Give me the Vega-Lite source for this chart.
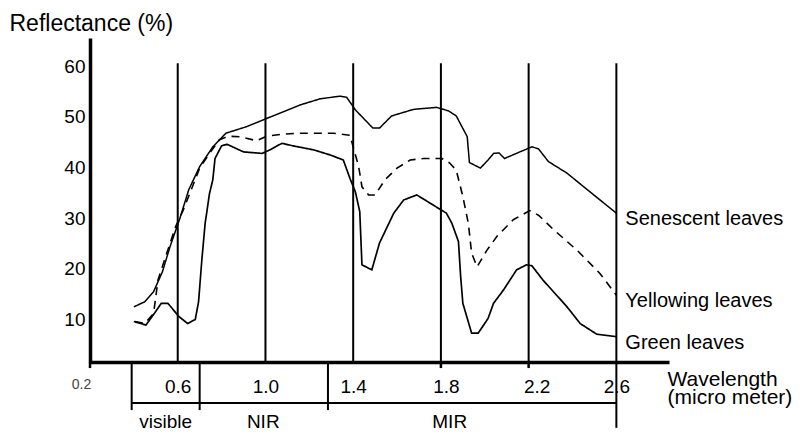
{
  "$schema": "https://vega.github.io/schema/vega-lite/v6.json",
  "width": 579,
  "height": 324,
  "autosize": {"type": "none"},
  "padding": {"left": 90, "top": 38, "right": 141, "bottom": 75},
  "background": "white",
  "config": {"view": {"stroke": null}, "font": "Liberation Sans"},
  "datasets": {
    "spectra": [
      {"series": "Senescent leaves", "wl": 0.40, "refl": 12.5},
      {"series": "Senescent leaves", "wl": 0.45, "refl": 13.5},
      {"series": "Senescent leaves", "wl": 0.49, "refl": 15.5},
      {"series": "Senescent leaves", "wl": 0.53, "refl": 19.4},
      {"series": "Senescent leaves", "wl": 0.565, "refl": 24.4},
      {"series": "Senescent leaves", "wl": 0.61, "refl": 30.0},
      {"series": "Senescent leaves", "wl": 0.65, "refl": 35.6},
      {"series": "Senescent leaves", "wl": 0.70, "refl": 40.2},
      {"series": "Senescent leaves", "wl": 0.76, "refl": 44.1},
      {"series": "Senescent leaves", "wl": 0.82, "refl": 46.8},
      {"series": "Senescent leaves", "wl": 0.915, "refl": 48.1},
      {"series": "Senescent leaves", "wl": 1.005, "refl": 49.7},
      {"series": "Senescent leaves", "wl": 1.16, "refl": 52.4},
      {"series": "Senescent leaves", "wl": 1.25, "refl": 53.6},
      {"series": "Senescent leaves", "wl": 1.34, "refl": 54.1},
      {"series": "Senescent leaves", "wl": 1.37, "refl": 53.9},
      {"series": "Senescent leaves", "wl": 1.41, "refl": 51.4},
      {"series": "Senescent leaves", "wl": 1.49, "refl": 47.8},
      {"series": "Senescent leaves", "wl": 1.52, "refl": 47.8},
      {"series": "Senescent leaves", "wl": 1.575, "refl": 50.2},
      {"series": "Senescent leaves", "wl": 1.675, "refl": 51.5},
      {"series": "Senescent leaves", "wl": 1.78, "refl": 51.9},
      {"series": "Senescent leaves", "wl": 1.835, "refl": 51.2},
      {"series": "Senescent leaves", "wl": 1.87, "refl": 50.2},
      {"series": "Senescent leaves", "wl": 1.92, "refl": 46.1},
      {"series": "Senescent leaves", "wl": 1.93, "refl": 41.0},
      {"series": "Senescent leaves", "wl": 1.98, "refl": 39.9},
      {"series": "Senescent leaves", "wl": 2.015, "refl": 41.5},
      {"series": "Senescent leaves", "wl": 2.04, "refl": 42.8},
      {"series": "Senescent leaves", "wl": 2.065, "refl": 42.9},
      {"series": "Senescent leaves", "wl": 2.09, "refl": 41.8},
      {"series": "Senescent leaves", "wl": 2.16, "refl": 43.1},
      {"series": "Senescent leaves", "wl": 2.215, "refl": 44.1},
      {"series": "Senescent leaves", "wl": 2.245, "refl": 43.7},
      {"series": "Senescent leaves", "wl": 2.29, "refl": 41.2},
      {"series": "Senescent leaves", "wl": 2.375, "refl": 38.9},
      {"series": "Senescent leaves", "wl": 2.48, "refl": 35.2},
      {"series": "Senescent leaves", "wl": 2.6, "refl": 31.0},
      {"series": "Yellowing leaves", "wl": 0.405, "refl": 9.6},
      {"series": "Yellowing leaves", "wl": 0.45, "refl": 9.2},
      {"series": "Yellowing leaves", "wl": 0.49, "refl": 11.2},
      {"series": "Yellowing leaves", "wl": 0.51, "refl": 17.8},
      {"series": "Yellowing leaves", "wl": 0.55, "refl": 23.1},
      {"series": "Yellowing leaves", "wl": 0.59, "refl": 28.3},
      {"series": "Yellowing leaves", "wl": 0.625, "refl": 31.6},
      {"series": "Yellowing leaves", "wl": 0.655, "refl": 34.9},
      {"series": "Yellowing leaves", "wl": 0.70, "refl": 39.9},
      {"series": "Yellowing leaves", "wl": 0.745, "refl": 42.8},
      {"series": "Yellowing leaves", "wl": 0.79, "refl": 45.5},
      {"series": "Yellowing leaves", "wl": 0.83, "refl": 46.2},
      {"series": "Yellowing leaves", "wl": 0.885, "refl": 46.1},
      {"series": "Yellowing leaves", "wl": 0.96, "refl": 45.3},
      {"series": "Yellowing leaves", "wl": 1.005, "refl": 46.2},
      {"series": "Yellowing leaves", "wl": 1.08, "refl": 46.6},
      {"series": "Yellowing leaves", "wl": 1.16, "refl": 46.8},
      {"series": "Yellowing leaves", "wl": 1.31, "refl": 46.8},
      {"series": "Yellowing leaves", "wl": 1.385, "refl": 46.4},
      {"series": "Yellowing leaves", "wl": 1.40, "refl": 44.1},
      {"series": "Yellowing leaves", "wl": 1.425, "refl": 40.2},
      {"series": "Yellowing leaves", "wl": 1.44, "refl": 36.2},
      {"series": "Yellowing leaves", "wl": 1.47, "refl": 34.6},
      {"series": "Yellowing leaves", "wl": 1.50, "refl": 34.6},
      {"series": "Yellowing leaves", "wl": 1.545, "refl": 37.6},
      {"series": "Yellowing leaves", "wl": 1.60, "refl": 39.9},
      {"series": "Yellowing leaves", "wl": 1.66, "refl": 41.5},
      {"series": "Yellowing leaves", "wl": 1.72, "refl": 41.8},
      {"series": "Yellowing leaves", "wl": 1.805, "refl": 41.8},
      {"series": "Yellowing leaves", "wl": 1.84, "refl": 40.9},
      {"series": "Yellowing leaves", "wl": 1.87, "refl": 39.5},
      {"series": "Yellowing leaves", "wl": 1.90, "refl": 34.3},
      {"series": "Yellowing leaves", "wl": 1.925, "refl": 29.0},
      {"series": "Yellowing leaves", "wl": 1.94, "refl": 23.1},
      {"series": "Yellowing leaves", "wl": 1.965, "refl": 20.4},
      {"series": "Yellowing leaves", "wl": 2.01, "refl": 23.7},
      {"series": "Yellowing leaves", "wl": 2.055, "refl": 26.4},
      {"series": "Yellowing leaves", "wl": 2.13, "refl": 29.7},
      {"series": "Yellowing leaves", "wl": 2.205, "refl": 31.5},
      {"series": "Yellowing leaves", "wl": 2.245, "refl": 30.6},
      {"series": "Yellowing leaves", "wl": 2.315, "refl": 27.7},
      {"series": "Yellowing leaves", "wl": 2.42, "refl": 23.7},
      {"series": "Yellowing leaves", "wl": 2.525, "refl": 19.1},
      {"series": "Yellowing leaves", "wl": 2.6, "refl": 14.8},
      {"series": "Green leaves", "wl": 0.40, "refl": 9.6},
      {"series": "Green leaves", "wl": 0.455, "refl": 8.9},
      {"series": "Green leaves", "wl": 0.495, "refl": 11.3},
      {"series": "Green leaves", "wl": 0.525, "refl": 13.2},
      {"series": "Green leaves", "wl": 0.555, "refl": 13.2},
      {"series": "Green leaves", "wl": 0.605, "refl": 10.6},
      {"series": "Green leaves", "wl": 0.645, "refl": 9.2},
      {"series": "Green leaves", "wl": 0.68, "refl": 10.0},
      {"series": "Green leaves", "wl": 0.695, "refl": 13.5},
      {"series": "Green leaves", "wl": 0.71, "refl": 21.8},
      {"series": "Green leaves", "wl": 0.725, "refl": 29.0},
      {"series": "Green leaves", "wl": 0.745, "refl": 34.9},
      {"series": "Green leaves", "wl": 0.76, "refl": 37.6},
      {"series": "Green leaves", "wl": 0.77, "refl": 41.8},
      {"series": "Green leaves", "wl": 0.80, "refl": 44.3},
      {"series": "Green leaves", "wl": 0.825, "refl": 44.6},
      {"series": "Green leaves", "wl": 0.855, "refl": 44.0},
      {"series": "Green leaves", "wl": 0.90, "refl": 43.1},
      {"series": "Green leaves", "wl": 0.985, "refl": 42.8},
      {"series": "Green leaves", "wl": 1.02, "refl": 43.5},
      {"series": "Green leaves", "wl": 1.075, "refl": 44.8},
      {"series": "Green leaves", "wl": 1.125, "refl": 44.3},
      {"series": "Green leaves", "wl": 1.22, "refl": 43.5},
      {"series": "Green leaves", "wl": 1.295, "refl": 42.5},
      {"series": "Green leaves", "wl": 1.355, "refl": 41.5},
      {"series": "Green leaves", "wl": 1.385, "refl": 37.9},
      {"series": "Green leaves", "wl": 1.41, "refl": 35.2},
      {"series": "Green leaves", "wl": 1.43, "refl": 31.3},
      {"series": "Green leaves", "wl": 1.44, "refl": 20.8},
      {"series": "Green leaves", "wl": 1.485, "refl": 19.8},
      {"series": "Green leaves", "wl": 1.52, "refl": 25.1},
      {"series": "Green leaves", "wl": 1.585, "refl": 31.0},
      {"series": "Green leaves", "wl": 1.63, "refl": 33.6},
      {"series": "Green leaves", "wl": 1.69, "refl": 34.6},
      {"series": "Green leaves", "wl": 1.765, "refl": 32.6},
      {"series": "Green leaves", "wl": 1.825, "refl": 31.0},
      {"series": "Green leaves", "wl": 1.85, "refl": 29.0},
      {"series": "Green leaves", "wl": 1.88, "refl": 25.4},
      {"series": "Green leaves", "wl": 1.89, "refl": 18.5},
      {"series": "Green leaves", "wl": 1.90, "refl": 13.2},
      {"series": "Green leaves", "wl": 1.94, "refl": 7.3},
      {"series": "Green leaves", "wl": 1.97, "refl": 7.3},
      {"series": "Green leaves", "wl": 2.015, "refl": 10.2},
      {"series": "Green leaves", "wl": 2.04, "refl": 13.2},
      {"series": "Green leaves", "wl": 2.085, "refl": 15.8},
      {"series": "Green leaves", "wl": 2.145, "refl": 19.8},
      {"series": "Green leaves", "wl": 2.19, "refl": 20.8},
      {"series": "Green leaves", "wl": 2.215, "refl": 20.6},
      {"series": "Green leaves", "wl": 2.265, "refl": 17.8},
      {"series": "Green leaves", "wl": 2.375, "refl": 12.5},
      {"series": "Green leaves", "wl": 2.435, "refl": 9.2},
      {"series": "Green leaves", "wl": 2.51, "refl": 7.1},
      {"series": "Green leaves", "wl": 2.6, "refl": 6.6}
    ],
    "bands": [
      {"band": "visible", "start": 0.39, "end": 0.70, "center": 0.545},
      {"band": "NIR", "start": 0.70, "end": 1.285, "center": 0.99},
      {"band": "MIR", "start": 1.285, "end": 2.6, "center": 1.84}
    ],
    "grid": [{"wl": 0.6}, {"wl": 1.0}, {"wl": 1.4}, {"wl": 1.8}, {"wl": 2.2}, {"wl": 2.6}],
    "ticks": [{"wl": 0.2}, {"wl": 1.8}, {"wl": 2.2}]
  },
  "layer": [
    {
      "data": {"name": "spectra"},
      "mark": {"type": "line", "color": "black"},
      "encoding": {
        "x": {
          "field": "wl", "type": "quantitative",
          "scale": {"domain": [0.2, 2.84], "nice": false, "zero": false},
          "axis": {
            "values": [0.2, 0.6, 1.0, 1.4, 1.8, 2.2, 2.6],
            "format": ".1f",
            "ticks": false, "tickSize": 0, "grid": false,
            "domainColor": "black", "domainWidth": 3.5,
            "labelFontSize": {"condition": {"test": "datum.value < 0.3", "value": 14}, "value": 19},
            "labelColor": {"condition": {"test": "datum.value < 0.3", "value": "#444444"}, "value": "black"},
            "labelOffset": {"condition": [
              {"test": "datum.value < 0.3", "value": -9},
              {"test": "abs(datum.value - 1.8) < 0.01", "value": 5},
              {"test": "abs(datum.value - 2.2) < 0.01", "value": 8}
            ], "value": 0},
            "labelPadding": 15,
            "labelFlush": false, "labelOverlap": false, "labelBound": false,
            "title": ["Wavelength", "(micro meter)"],
            "titleFontSize": 21, "titleFontWeight": "normal", "titleColor": "black",
            "titleAlign": "left", "titleBaseline": "alphabetic",
            "titleX": 577, "titleY": 23, "titleLineHeight": 18
          }
        },
        "y": {
          "field": "refl", "type": "quantitative",
          "scale": {"domain": [1.6, 65.6], "nice": false, "zero": false},
          "axis": {
            "values": [10, 20, 30, 40, 50, 60],
            "ticks": false, "tickSize": 0, "grid": false,
            "domainColor": "black", "domainWidth": 3.5,
            "labelFontSize": 19, "labelColor": "black", "labelPadding": 5,
            "labelFlush": false,
            "title": "Reflectance (%)",
            "titleAngle": 0, "titleAlign": "left", "titleBaseline": "alphabetic",
            "titleX": -81, "titleY": -8,
            "titleFontSize": 23, "titleFontWeight": "normal", "titleColor": "black"
          }
        },
        "detail": {"field": "series", "type": "nominal"},
        "strokeWidth": {
          "field": "series", "type": "ordinal",
          "scale": {"domain": ["Senescent leaves", "Yellowing leaves", "Green leaves"], "range": [1.5, 1.7, 3.5]},
          "legend": null
        },
        "strokeDash": {
          "field": "series", "type": "nominal",
          "scale": {"domain": ["Senescent leaves", "Yellowing leaves", "Green leaves"], "range": [[1, 0], [8, 6], [1, 0]]},
          "legend": null
        }
      }
    },
    {
      "data": {"name": "grid"},
      "mark": {"type": "rule", "color": "black", "strokeWidth": 2},
      "encoding": {
        "x": {"field": "wl", "type": "quantitative"},
        "y": {"datum": 1.6},
        "y2": {"datum": 60.6}
      }
    },
    {
      "data": {"name": "ticks"},
      "mark": {"type": "rule", "color": "black", "strokeWidth": 2.5},
      "encoding": {
        "x": {"field": "wl", "type": "quantitative"},
        "y": {"datum": 1.6},
        "y2": {"datum": 0.4}
      }
    },
    {
      "data": {"name": "bands"},
      "mark": {"type": "rule", "color": "black", "strokeWidth": 2},
      "encoding": {
        "x": {"field": "start", "type": "quantitative"},
        "y": {"datum": 1.6},
        "y2": {"datum": -7.9}
      }
    },
    {
      "data": {"name": "bands"},
      "mark": {"type": "rule", "color": "black", "strokeWidth": 2},
      "encoding": {
        "x": {"field": "start", "type": "quantitative"},
        "x2": {"field": "end"},
        "y": {"datum": -6.5}
      }
    },
    {
      "data": {"name": "bands"},
      "transform": [{"filter": "datum.band === 'MIR'"}],
      "mark": {"type": "rule", "color": "black", "strokeWidth": 2},
      "encoding": {
        "x": {"field": "end", "type": "quantitative"},
        "y": {"datum": 1.6},
        "y2": {"datum": -11.4}
      }
    },
    {
      "data": {"name": "bands"},
      "mark": {"type": "text", "color": "black", "fontSize": 19, "align": "center", "baseline": "alphabetic"},
      "encoding": {
        "x": {"field": "center", "type": "quantitative"},
        "y": {"datum": -11.4},
        "text": {"field": "band"}
      }
    },
    {
      "data": {"name": "spectra"},
      "transform": [
        {"joinaggregate": [{"op": "max", "field": "wl", "as": "maxwl"}], "groupby": ["series"]},
        {"filter": "datum.wl === datum.maxwl"}
      ],
      "mark": {"type": "text", "color": "black", "fontSize": 20, "align": "left", "baseline": "middle", "dx": 9, "dy": 6},
      "encoding": {
        "x": {"field": "wl", "type": "quantitative"},
        "y": {"field": "refl", "type": "quantitative"},
        "text": {"field": "series"}
      }
    }
  ]
}
